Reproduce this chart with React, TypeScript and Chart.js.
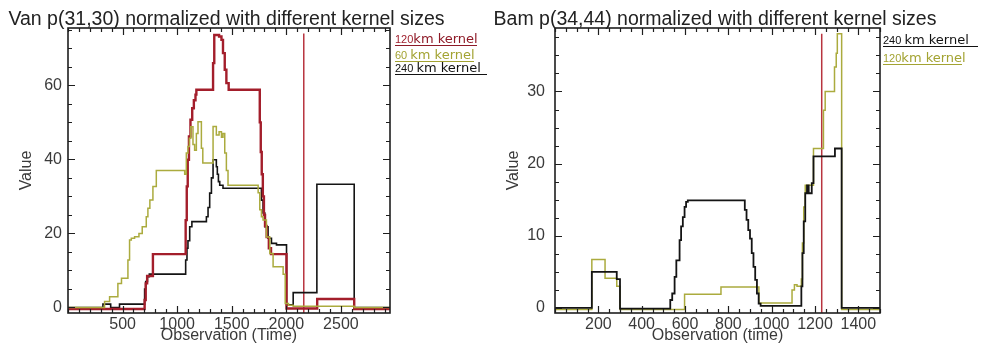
import { useEffect, useRef } from "react";
import { Chart, registerables } from "chart.js";

Chart.register(...registerables);

// ---- Van p(31,30): step breakpoints (time) and the value held from each one ----
const vanTime120 = [0, 702, 712, 725, 778, 1078, 1088, 1097, 1108, 1122, 1138, 1153, 1168, 1176, 1329, 1340, 1384, 1406, 1420, 1436, 1451, 1472, 1757, 1766, 1775, 1785, 1795, 1805, 1820, 1840, 1860, 2002, 2283, 2622, 2950];
const vanVal120 = [-0.4, 2, 6.5, 8.5, 14.4, 23.6, 32.7, 39.9, 46.2, 50.7, 53.8, 56, 57.5, 58.8, 66, 73.6, 73.2, 72.3, 68.7, 64.2, 60.6, 58.8, 50, 42, 36, 30, 25, 22, 19, 16, 14.4, -0.3, 2.3, -0.4, -0.4];

const vanTime60 = [0, 335, 381, 457, 490, 549, 564, 580, 610, 650, 680, 717, 732, 750, 778, 809, 1069, 1084, 1099, 1112, 1125, 1145, 1160, 1176, 1191, 1222, 1235, 1329, 1359, 1384, 1406, 1420, 1436, 1451, 1466, 1742, 1757, 1772, 1787, 1818, 1849, 1879, 1971, 1990, 2020, 2063, 2622, 2950];
const vanVal60 = [0, 1.6, 2.9, 6.5, 7.9, 12.8, 18.2, 18.7, 19.1, 20, 21.8, 24.5, 26.8, 29, 32.7, 37, 36, 41.7, 43.5, 45.7, 48.8, 44, 42.5, 47, 50.2, 43, 39, 48.9, 46.6, 47.5, 46, 47, 41.7, 37, 33, 31, 26.4, 24.5, 23.6, 19, 14.6, 11, 9, 1.1, 0.6, 0.3, 0, 0];

const vanTime240 = [0, 320, 391, 472, 702, 712, 728, 745, 1078, 1090, 1099, 1115, 1135, 1268, 1283, 1298, 1314, 1329, 1359, 1368, 1378, 1390, 1420, 1772, 1787, 1803, 1833, 1864, 1910, 2002, 2063, 2280, 2622, 2950];
const vanVal240 = [0, 0.9, 0, 0.9, 5, 7, 8.3, 9, 12.8, 16, 18, 21.8, 23.2, 24.5, 27, 30.9, 35, 39.9, 38, 36, 34, 33, 32.2, 29, 25.5, 21.8, 18.7, 17.3, 16.9, 0.7, 4, 33.3, 0, 0];

const vanMarkerTime = 2160;
const vanMarkerTop = 74;
const vanXTicks = [500, 1000, 1500, 2000, 2500];
const vanYTicks = [0, 20, 40, 60];

// ---- Bam p(34,44) ----
const bamTime120 = [0, 170, 231, 285, 300, 598, 766, 941, 1094, 1105, 1117, 1137, 1142, 1148, 1155, 1193, 1239, 1247, 1290, 1298, 1303, 1323, 1500];
const bamVal120 = [-0.2, 6.7, 4.1, 3.0, -0.2, 1.9, 2.9, 0.7, 2.5, 3.2, 3.0, 4.0, 9, 14, 17, 22.1, 27.4, 30, 33.4, 35.3, 38, -0.2, -0.2];

const bamTime240 = [0, 170, 285, 300, 532, 541, 552, 560, 575, 582, 590, 598, 605, 613, 876, 884, 892, 900, 908, 916, 924, 932, 940, 949, 1137, 1142, 1148, 1155, 1163, 1171, 1185, 1193, 1292, 1323, 1500];
const bamVal240 = [0, 5.0, 4.0, -0.1, 1.1, 2, 4.3, 6.6, 9.4, 11.3, 12.6, 14, 14.7, 14.9, 13.6, 12.2, 10.8, 9.6, 7.6, 5.7, 3.9, 2, 0.6, 0.3, 3, 7.6, 12, 15.9, 17, 15.9, 17.3, 21, 22.1, 0, 0];

const bamMarkerTime = 1231;
const bamMarkerTop = 38;
const bamXTicks = [200, 400, 600, 800, 1000, 1200, 1400];
const bamYTicks = [0, 10, 20, 30];

// ---- styling ----
const RED = "#a31e2b";
const OLIVE = "#abab3e";
const BLACK = "#141414";
const MARKER = "#b8343f";
const TEXT = "#3a3a3a";
const SANS = "'Liberation Sans', Arial, sans-serif";
const LEGEND_FONT = "'DejaVu Sans', sans-serif";

// Boxed axes with inward major/minor ticks on all four sides
const idlFrame = {
  id: "idlFrame",
  afterDatasetsDraw(chart: any, _args: any, opts: any) {
    const { ctx, chartArea: a, scales } = chart;
    const xs = scales.x;
    const ys = scales.y;
    ctx.save();
    ctx.strokeStyle = "#1e1e1e";
    ctx.lineWidth = 1.6;
    ctx.strokeRect(a.left, a.top, a.right - a.left, a.bottom - a.top);
    ctx.lineWidth = 1.2;
    ctx.beginPath();
    const isMajor = (scale: any, v: number) => scale.ticks.some((t: any) => Math.abs(t.value - v) < 1e-6);
    const x0 = Math.ceil(xs.min / opts.xMinor) * opts.xMinor;
    for (let v = x0; v <= xs.max + 1e-6; v += opts.xMinor) {
      const px = Math.round(xs.getPixelForValue(v)) + 0.5;
      const len = isMajor(xs, v) ? 7 : 4;
      ctx.moveTo(px, a.bottom);
      ctx.lineTo(px, a.bottom - len);
      ctx.moveTo(px, a.top);
      ctx.lineTo(px, a.top + len);
    }
    const y0 = Math.ceil(ys.min / opts.yMinor) * opts.yMinor;
    for (let v = y0; v <= ys.max + 1e-6; v += opts.yMinor) {
      const py = Math.round(ys.getPixelForValue(v)) + 0.5;
      const len = isMajor(ys, v) ? 7 : 4;
      ctx.moveTo(a.left, py);
      ctx.lineTo(a.left + len, py);
      ctx.moveTo(a.right, py);
      ctx.lineTo(a.right - len, py);
    }
    ctx.stroke();
    ctx.restore();
  },
};

type Series = { label: string; t: number[]; v: number[]; color: string; width: number };
type LegendEntry = { num: string; text: string; color: string; numColor: string; top: number; width: number };

type PanelCfg = {
  left: number;
  width: number;
  title: string;
  titleCenter: number;
  xTitle: string;
  xMax: number;
  yMin: number;
  yMax: number;
  xTicks: number[];
  yTicks: number[];
  xMinor: number;
  yMinor: number;
  series: Series[];
  markerTime: number;
  markerTop: number;
  yAxisWidth: number;
  yTickPad: number;
  yTitlePad: number;
  rightPad: number;
  legendLeft: number;
  legend: LegendEntry[];
};

function Panel({ cfg }: { cfg: PanelCfg }) {
  const ref = useRef<HTMLCanvasElement>(null);

  useEffect(() => {
    const canvas = ref.current;
    if (!canvas) return;
    const datasets: any[] = cfg.series.map((s) => ({
      label: s.label,
      data: s.t.map((t, i) => ({ x: t, y: s.v[i] })),
      borderColor: s.color,
      borderWidth: s.width,
      stepped: "before",
      pointRadius: 0,
      fill: false,
      tension: 0,
      borderJoinStyle: "miter",
    }));
    datasets.push({
      label: "marker",
      data: [
        { x: cfg.markerTime, y: cfg.yMin },
        { x: cfg.markerTime, y: cfg.markerTop },
      ],
      borderColor: MARKER,
      borderWidth: 1.5,
      pointRadius: 0,
      fill: false,
    });

    const chart = new Chart(canvas, {
      type: "line",
      data: { datasets },
      options: {
        animation: false,
        responsive: false,
        devicePixelRatio: 1,
        events: [],
        layout: { padding: { top: 28, right: cfg.rightPad, left: 0, bottom: 0 } },
        plugins: {
          legend: { display: false },
          title: { display: false },
          tooltip: { enabled: false },
          idlFrame: { xMinor: cfg.xMinor, yMinor: cfg.yMinor },
        } as any,
        scales: {
          x: {
            type: "linear",
            position: "bottom",
            min: 0,
            max: cfg.xMax,
            grid: { display: false, drawTicks: false },
            border: { display: false },
            afterBuildTicks: (s: any) => {
              s.ticks = cfg.xTicks.map((v) => ({ value: v }));
            },
            afterFit: (s: any) => {
              s.height = 36;
            },
            ticks: {
              color: TEXT,
              font: { family: SANS, size: 16 },
              padding: 2,
              maxRotation: 0,
              autoSkip: false,
              callback: (v: any) => String(v),
            },
            title: {
              display: true,
              text: cfg.xTitle,
              color: TEXT,
              font: { family: SANS, size: 16 },
              padding: { top: 0, bottom: 4 },
            },
          },
          y: {
            type: "linear",
            min: cfg.yMin,
            max: cfg.yMax,
            grid: { display: false, drawTicks: false },
            border: { display: false },
            afterBuildTicks: (s: any) => {
              s.ticks = cfg.yTicks.map((v) => ({ value: v }));
            },
            afterFit: (s: any) => {
              s.width = cfg.yAxisWidth;
            },
            ticks: {
              color: TEXT,
              font: { family: SANS, size: 16 },
              padding: cfg.yTickPad,
              autoSkip: false,
              callback: (v: any) => String(v),
            },
            title: {
              display: true,
              text: "Value",
              color: TEXT,
              font: { family: SANS, size: 16 },
              padding: { top: cfg.yTitlePad, bottom: 0 },
            },
          },
        },
      } as any,
      plugins: [idlFrame],
    });
    return () => chart.destroy();
  }, [cfg]);

  return (
    <div style={{ position: "absolute", left: cfg.left, top: 0, width: cfg.width, height: 349 }}>
      <canvas ref={ref} width={cfg.width} height={349} style={{ display: "block", width: cfg.width, height: 349 }} />
      <div
        style={{
          position: "absolute",
          left: cfg.titleCenter - 300,
          width: 600,
          top: 9,
          textAlign: "center",
          fontFamily: SANS,
          fontSize: 19.5,
          lineHeight: "19.5px",
          color: "#222",
          whiteSpace: "nowrap",
        }}
      >
        {cfg.title}
      </div>
      {cfg.legend.map((e, i) => (
        <div
          key={i}
          style={{
            position: "absolute",
            left: cfg.legendLeft,
            top: e.top,
            width: e.width,
            height: 14,
            lineHeight: "14px",
            borderBottom: `1.5px solid ${e.color}`,
            whiteSpace: "nowrap",
            color: e.color,
          }}
        >
          <span style={{ fontFamily: SANS, fontSize: 11, color: e.numColor }}>{e.num}</span>
          <span style={{ fontFamily: LEGEND_FONT, fontSize: 13 }}>{e.text}</span>
        </div>
      ))}
    </div>
  );
}

const vanPanel: PanelCfg = {
  left: 0,
  width: 490,
  title: "Van p(31,30) normalized with different kernel sizes",
  titleCenter: 226.5,
  xTitle: "Observation (Time)",
  xMax: 2950,
  yMin: -1.5,
  yMax: 75.5,
  xTicks: vanXTicks,
  yTicks: vanYTicks,
  xMinor: 100,
  yMinor: 5,
  series: [
    { label: "60 km kernel", t: vanTime60, v: vanVal60, color: OLIVE, width: 1.5 },
    { label: "120km kernel", t: vanTime120, v: vanVal120, color: RED, width: 2.4 },
    { label: "240 km kernel", t: vanTime240, v: vanVal240, color: BLACK, width: 1.6 },
  ],
  markerTime: vanMarkerTime,
  markerTop: vanMarkerTop,
  yAxisWidth: 68,
  yTickPad: 6,
  yTitlePad: 17,
  rightPad: 100,
  legendLeft: 395,
  legend: [
    { num: "120", text: "km kernel", color: "#8e1a27", numColor: "#a0202e", top: 31, width: 82 },
    { num: "60 ", text: "km kernel", color: "#a3a332", numColor: "#a3a332", top: 47, width: 79 },
    { num: "240 ", text: "km kernel", color: "#111", numColor: "#111", top: 60, width: 92 },
  ],
};

const bamPanel: PanelCfg = {
  left: 490,
  width: 491,
  title: "Bam p(34,44) normalized with different kernel sizes",
  titleCenter: 225,
  xTitle: "Observation (time)",
  xMax: 1500,
  yMin: -0.7,
  yMax: 38.8,
  xTicks: bamXTicks,
  yTicks: bamYTicks,
  xMinor: 50,
  yMinor: 2.5,
  series: [
    { label: "240 km kernel", t: bamTime240, v: bamVal240, color: BLACK, width: 1.8 },
    { label: "120km kernel", t: bamTime120, v: bamVal120, color: OLIVE, width: 1.5 },
  ],
  markerTime: bamMarkerTime,
  markerTop: bamMarkerTop,
  yAxisWidth: 65,
  yTickPad: 10,
  yTitlePad: 14,
  rightPad: 101,
  legendLeft: 393,
  legend: [
    { num: "240 ", text: "km kernel", color: "#111", numColor: "#111", top: 32, width: 95 },
    { num: "120", text: "km kernel", color: "#a3a332", numColor: "#a3a332", top: 49.5, width: 79 },
  ],
};

export default function App() {
  return (
    <div style={{ position: "fixed", left: 0, top: 0, width: 981, height: 349, background: "#fff", overflow: "hidden" }}>
      <Panel cfg={vanPanel} />
      <Panel cfg={bamPanel} />
    </div>
  );
}
